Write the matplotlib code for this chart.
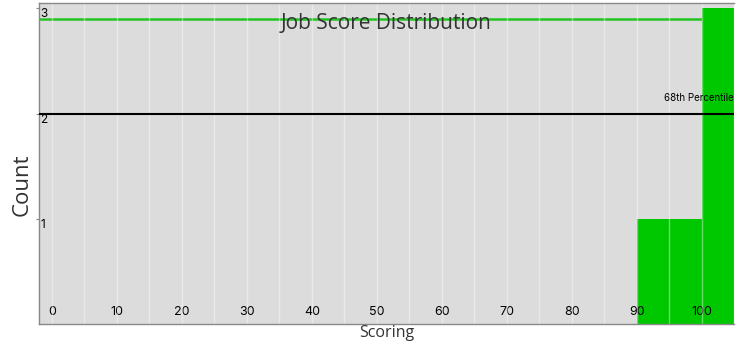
import numpy as np
import matplotlib.pyplot as plt

# histogram bins (left edges, width 5) and counts per bin
bin_edges = [90, 95, 100]
bin_counts = [1, 1, 3]
bin_width = 5

score_line = 2.9
score_label = "98"
percentile_line = 2
percentile_label = "68th Percentile"

x_ticks = [0, 10, 20, 30, 40, 50, 60, 70, 80, 90, 100]
y_ticks = [1, 2, 3]

bg = "#dcdcdc"
green = "#00c800"
tick_font = "Inter"
label_font = "Open Sans"

fig = plt.figure(figsize=(7.39, 3.47), dpi=100)
ax = fig.add_axes([39 / 739, 23 / 347, 695 / 739, 321 / 347])
ax.set_facecolor(bg)

ax.bar(bin_edges, bin_counts, width=bin_width, align="edge", color=green,
       edgecolor="none", zorder=1)

# vertical grid every 5 points, drawn over the bars
for gx in np.arange(0, 106, 5):
  ax.axvline(gx, color="white", alpha=0.4, lw=1, zorder=2)

ax.axhline(score_line, color="#22c422", lw=1.8, zorder=0.5)
ax.axhline(percentile_line, color="black", lw=1.5, zorder=3)
ax.text(105, percentile_line + 0.1, percentile_label, ha="right", va="bottom",
        fontsize=7, family=tick_font, zorder=4)
ax.text(103.5, 3.07, score_label, ha="center", va="bottom", fontsize=8,
        family=tick_font, clip_on=False)

ax.set_xlim(-2, 105)
ax.set_ylim(0, 3.05)

ax.set_xticks(x_ticks)
ax.set_yticks(y_ticks)
ax.tick_params(axis="x", length=0, pad=-4, labelsize=9)
ax.tick_params(axis="y", length=2, pad=-3, labelsize=8.5, color="#888888")
for lbl in ax.get_xticklabels():
  lbl.set_verticalalignment("bottom")
  lbl.set_family(tick_font)
for lbl in ax.get_yticklabels():
  lbl.set_horizontalalignment("left")
  lbl.set_verticalalignment("top")
  lbl.set_family(tick_font)

for s in ax.spines.values():
  s.set_color("#888888")
  s.set_linewidth(1)
ax.spines["right"].set_visible(False)

ax.text(0.5, 0.97, "Job Score Distribution", transform=ax.transAxes,
        ha="center", va="top", fontsize=15, family=label_font,
        color="#333333", zorder=5)
fig.text(22 / 739, 1 - 185 / 347, "Count", rotation=90, ha="center",
         va="center", fontsize=16, family=label_font, color="#333333")
fig.text(387 / 739, 1 - 333 / 347, "Scoring", ha="center", va="center",
         fontsize=11.5, family=label_font, color="#333333")

fig.savefig("out.png", dpi=100)
